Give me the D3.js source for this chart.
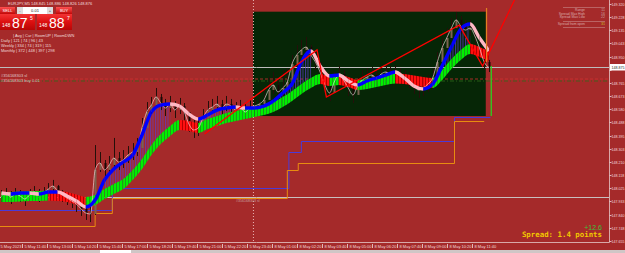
<!DOCTYPE html>
<html><head><meta charset="utf-8">
<script src="https://cdn.jsdelivr.net/npm/d3@7"></script>
<style>html,body{margin:0;padding:0;background:#a52a2a;overflow:hidden}svg{display:block}text{font-family:"Liberation Sans",Arial,sans-serif}</style>
</head><body><svg id="c" width="625" height="253"></svg>
<script>
// ---------------- DATA ----------------
const titleText = "EURJPY,M5  148.845 148.886 148.826 148.876";
const bidPrice = 148.875;
const askPrice = 148.887;
const lotText = "0.01";
const priceTicks = [149.320,149.228,149.135,149.043,148.950,148.858,148.765,148.673,148.580,148.488,148.395,148.303,148.210,148.118,148.025,147.933,147.840,147.748,147.655];
const timeTickLabels = ["5 May 2023","5 May 11:40","5 May 13:00","5 May 14:20","5 May 15:40","5 May 17:00","5 May 18:20","5 May 19:40","5 May 21:00","5 May 22:20","5 May 23:40","8 May 01:00","8 May 02:20","8 May 03:40","8 May 05:00","8 May 06:20","8 May 07:40","8 May 09:00","8 May 10:20","8 May 11:40"];
const timeTickBars = [-15,0,16,32,48,64,80,96,112,128,144,160,176,192,208,224,240,256,272,288];
const daySeparatorBar = 148;

// candles: one every 3 M5 bars, first at bar -13 (bars counted from 5 May 11:40)
const candleFirstBar = -13, barsPerCandle = 3;
const closes = [147.971,147.992,147.964,147.985,147.971,147.950,147.978,147.999,147.978,147.992,
148.020,148.041,148.006,147.978,147.957,147.936,147.915,147.880,147.852,147.845,
148.154,148.203,148.154,148.189,148.238,148.210,148.224,148.259,148.280,148.308,
148.449,148.561,148.610,148.667,148.624,148.589,148.617,148.575,148.603,148.561,
148.477,148.435,148.449,148.519,148.575,148.596,148.617,148.589,148.617,148.603,
148.575,148.589,148.561,148.589,148.603,148.617,148.646,148.716,148.751,148.702,
148.730,148.772,148.898,148.962,148.997,149.018,148.962,148.912,148.842,148.751,
148.695,148.772,148.828,148.786,148.730,148.681,148.744,148.786,148.807,148.821,
148.800,148.828,148.842,148.828,148.835,148.814,148.800,148.786,148.744,148.716,
148.730,148.758,148.800,148.912,149.011,149.081,149.151,149.208,149.165,149.137,
149.151,149.095,149.011,148.912,148.875];
const highs = [148.013,148.027,148.006,148.027,148.013,147.992,148.020,148.041,148.020,148.034,
148.062,148.084,148.048,148.013,147.992,147.971,147.950,147.922,147.894,147.908,
148.329,148.280,148.224,148.252,148.379,148.280,148.294,148.322,148.343,148.379,
148.519,148.631,148.667,148.730,148.688,148.653,148.674,148.638,148.660,148.624,
148.547,148.505,148.505,148.582,148.638,148.653,148.674,148.646,148.674,148.653,
148.631,148.646,148.617,148.646,148.653,148.667,148.716,148.807,148.842,148.786,
148.856,148.870,148.962,149.032,149.067,149.088,149.032,148.983,148.912,148.814,
148.758,148.842,148.884,148.856,148.793,148.744,148.807,148.856,148.870,148.877,
148.863,148.884,148.898,148.884,148.891,148.870,148.856,148.842,148.807,148.772,
148.786,148.821,148.870,148.983,149.081,149.151,149.222,149.264,149.236,149.208,
149.208,149.165,149.081,148.983,148.927];
const lows = [147.929,147.950,147.915,147.943,147.929,147.901,147.936,147.957,147.929,147.943,
147.971,147.992,147.957,147.929,147.908,147.887,147.859,147.831,147.803,147.788,
147.838,148.140,148.098,148.133,148.175,148.154,148.168,148.203,148.224,148.252,
148.365,148.477,148.547,148.603,148.575,148.533,148.561,148.519,148.547,148.491,
148.421,148.379,148.393,148.463,148.519,148.547,148.568,148.540,148.568,148.554,
148.526,148.540,148.512,148.540,148.554,148.568,148.589,148.660,148.688,148.646,
148.674,148.716,148.828,148.905,148.941,148.962,148.905,148.856,148.786,148.695,
148.638,148.716,148.772,148.730,148.674,148.624,148.688,148.737,148.758,148.772,
148.751,148.779,148.793,148.779,148.786,148.765,148.751,148.730,148.688,148.660,
148.674,148.702,148.744,148.856,148.955,149.025,149.095,149.151,149.109,149.081,
149.095,149.039,148.955,148.856,148.842];

// moving averages: one point every 6 bars, first at bar -13
const maFirstBar = -13, maStep = 6;
const slowMA = [147.964,147.964,147.968,147.971,147.971,147.975,147.971,147.964,147.946,147.929,
147.943,147.985,148.020,148.055,148.119,148.196,148.294,148.371,148.428,148.470,
148.463,148.449,148.477,148.498,148.519,148.533,148.547,148.561,148.575,148.596,
148.631,148.674,148.723,148.765,148.793,148.779,148.786,148.772,148.751,148.758,
148.772,148.786,148.797,148.793,148.783,148.772,148.765,148.821,148.898,148.962,
149.004,148.983,148.955];
const fastMA = [147.992,147.985,147.992,147.992,147.985,147.999,147.999,147.971,147.936,147.894,
147.943,148.084,148.161,148.210,148.259,148.400,148.561,148.610,148.617,148.603,
148.547,148.512,148.540,148.575,148.589,148.596,148.589,148.589,148.603,148.638,
148.695,148.758,148.912,148.990,148.884,148.814,148.821,148.779,148.751,148.779,
148.800,148.821,148.842,148.800,148.744,148.723,148.758,148.884,149.018,149.144,
149.179,149.081,148.990];

// zigzag vertices [bar, price]
const zigzagBars = [117,189,195,280,295,316];
const zigzagPrices = [148.407,148.997,148.667,149.172,148.884,149.362];
// step lines [bar, price]
const blueStepBars = [-15,58,58,171,171,179,179,277,277,300];
const blueStepPrices = [147.873,147.873,148.027,148.027,148.280,148.280,148.357,148.357,148.526,148.526];
const orangeStepBars = [-15,47,47,58,58,170,170,177,177,277,277,296];
const orangeStepPrices = [147.760,147.760,147.852,147.852,147.957,147.957,148.154,148.154,148.203,148.203,148.498,148.498];
// rectangle object
const rectBars = [148,297];
const rectPrices = [149.266,148.533];
// order lines
const slPrice = 147.964;
const orderPrices = [148.793,148.779];
const orderLabels = ["#356168303 sl","#356168303 buy 0.01"];
// current bar range markers
const rangeMarkBars = [297.5,300.5];
const rangeMarkFrom = [149.292,148.884];
const rangeMarkTo = [148.912,148.533];
// panel table
const statHeader = "| Avg | Cur | RoomUP | RoomDWN";
const statRows = ["Daily","Weekly","Monthly"];
const statValues = [[121,74,96,43],[334,74,319,115],[372,448,397,298]];
const infoLabels = ["Range","Spread Max High","Spread Max Low","Spread from open"];
const infoValues = ["11","16","22","31"];
const spreadText = "Spread: 1.4 points";
const pipText = "+12.6";

// ---------------- DRAW ----------------
const svg = d3.select("#c");
const plotR = 609, plotB = 242;
const y = d3.scaleLinear().domain([147.655,149.320]).range([241,4]);
const x = d3.scaleLinear().domain([0,16]).range([21.7,46.7]);
const candleBar = i => candleFirstBar + i*barsPerCandle;
const maBar = k => maFirstBar + k*maStep;
const defs = svg.append("defs");

svg.append("rect").attr("width",625).attr("height",253).attr("fill","#a52a2a");
defs.append("clipPath").attr("id","plot").append("rect").attr("x",0).attr("y",0).attr("width",plotR).attr("height",plotB);
const g = svg.append("g").attr("clip-path","url(#plot)");

// patterns
function stripe(id,a,b,w){
  const p = defs.append("pattern").attr("id",id).attr("width",w).attr("height",20).attr("patternUnits","userSpaceOnUse");
  p.append("rect").attr("width",w).attr("height",20).attr("fill",b);
  p.append("rect").attr("width",w-1).attr("height",20).attr("fill",a);
}
stripe("gUp","#00f000","#1aa01a",3);
stripe("gDn","#ff1010","#b40000",3);
const pp = defs.append("pattern").attr("id","pur").attr("width",2.5).attr("height",20).attr("patternUnits","userSpaceOnUse");
pp.append("rect").attr("width",1).attr("height",20).attr("fill","#5a3cc8").attr("opacity",0.75);

// green rectangle
g.append("rect").attr("x",x(rectBars[0])).attr("y",y(rectPrices[0]))
 .attr("width",x(rectBars[1])-x(rectBars[0])).attr("height",y(rectPrices[1])-y(rectPrices[0])).attr("fill","#062606");

// day separator
g.append("line").attr("x1",x(daySeparatorBar)+0.5).attr("x2",x(daySeparatorBar)+0.5).attr("y1",0).attr("y2",plotB)
 .attr("stroke","#e8b4b4").attr("stroke-dasharray","1,2").attr("stroke-width",1);

// horizontal lines
g.append("line").attr("x1",0).attr("x2",plotR).attr("y1",Math.round(y(bidPrice))+0.5).attr("y2",Math.round(y(bidPrice))+0.5).attr("stroke","#bdbdbd");
g.append("line").attr("x1",0).attr("x2",plotR).attr("y1",Math.round(y(slPrice))+0.5).attr("y2",Math.round(y(slPrice))+0.5).attr("stroke","#c8c0c0");
g.append("line").attr("x1",0).attr("x2",plotR).attr("y1",y(orderPrices[0])).attr("y2",y(orderPrices[0])).attr("stroke","#d23030").attr("stroke-dasharray","3,2").attr("stroke-width",0.8);
g.append("line").attr("x1",0).attr("x2",plotR).attr("y1",y(orderPrices[1])).attr("y2",y(orderPrices[1])).attr("stroke","#2f6a1a").attr("stroke-dasharray","4,2,1,2").attr("stroke-width",0.8);

// step lines
const stepLine = d3.line().x(d=>x(d[0])).y(d=>Math.round(y(d[1]))+0.5);
g.append("path").attr("d",stepLine(blueStepBars.map((b,i)=>[b,blueStepPrices[i]]))).attr("fill","none").attr("stroke","#4a3ad8").attr("stroke-width",1);
g.append("path").attr("d",stepLine(orangeStepBars.map((b,i)=>[b,orangeStepPrices[i]]))).attr("fill","none").attr("stroke","#e88c10").attr("stroke-width",1);

// MA ribbon, segment clips
const maIdx = d3.range(slowMA.length);
const bandPath = d3.area().x(k=>x(maBar(k))).y0(k=>y(slowMA[k])-5).y1(k=>y(slowMA[k])+5).curve(d3.curveMonotoneX)(maIdx);
const purPath = d3.area().x(k=>x(maBar(k))).y0(k=>y(slowMA[k])-5).y1(k=>y(fastMA[k])).curve(d3.curveMonotoneX)(maIdx);
const fastPath = d3.line().x(k=>x(maBar(k))).y(k=>y(fastMA[k])).curve(d3.curveMonotoneX)(maIdx);
const segs = maIdx.slice(0,-1).map(k=>{
  const x0 = k===0?0:x(maBar(k)), x1 = x(maBar(k+1));
  defs.append("clipPath").attr("id","seg"+k).append("rect").attr("x",x0-0.02).attr("y",-20).attr("width",x1-x0+0.04).attr("height",300);
  return {k, slowUp: slowMA[k+1]>=slowMA[k], fastUp: fastMA[k+1]>=fastMA[k]};
});
const purG = g.append("g");
segs.filter(s=>s.fastUp && fastMA[s.k]>slowMA[s.k]).forEach(s=>{
  purG.append("path").attr("d",purPath).attr("fill","url(#pur)").attr("clip-path","url(#seg"+s.k+")");
});

// candles
const cg = g.append("g");
closes.forEach((c,i)=>{
  const o = i ? closes[i-1] : c, cx = Math.round(x(candleBar(i)))+0.5;
  const hi = Math.max(highs[i],o,c), lo = Math.min(lows[i],o,c);
  cg.append("line").attr("x1",cx).attr("x2",cx).attr("y1",y(hi)).attr("y2",y(lo)).attr("stroke","#24100a").attr("stroke-width",1);
  const top = y(Math.max(o,c)), bot = y(Math.min(o,c));
  cg.append("rect").attr("x",cx-1).attr("y",top).attr("width",2).attr("height",Math.max(0.8,bot-top))
    .attr("fill", c>=o ? "#7a6450" : "#1a0806");
});

// band
const bandG = g.append("g");
segs.forEach(s=>{
  bandG.append("path").attr("d",bandPath).attr("fill",s.slowUp?"url(#gUp)":"url(#gDn)").attr("clip-path","url(#seg"+s.k+")");
});

// thin white price line
g.append("path").attr("d",d3.line().x((c,i)=>x(candleBar(i))).y(c=>y(c)).curve(d3.curveMonotoneX)(closes))
 .attr("fill","none").attr("stroke","#f6e6e6").attr("stroke-width",0.8).attr("opacity",0.8);

// fast MA
const fastG = g.append("g");
segs.forEach(s=>{
  fastG.append("path").attr("d",fastPath).attr("fill","none").attr("stroke",s.fastUp?"#0000ff":"#ffb8c4")
   .attr("stroke-width",3.4).attr("clip-path","url(#seg"+s.k+")");
});

// zigzag
g.append("path").attr("d",d3.line().x((b)=>x(b)).y((b,i)=>y(zigzagPrices[i]))(zigzagBars))
 .attr("fill","none").attr("stroke","#ff0000").attr("stroke-width",1.3);

// range marks
rangeMarkBars.forEach((b,i)=>{
  g.append("line").attr("x1",x(b)).attr("x2",x(b)).attr("y1",y(rangeMarkFrom[i])).attr("y2",y(rangeMarkTo[i]))
   .attr("stroke", i===0?"#e08020":"#20e020").attr("stroke-width",1.2);
});

// order labels
orderLabels.forEach((t,i)=>{
  svg.append("text").attr("x",1).attr("y",y(orderPrices[i])-(i===0?2.5:-0.5)).attr("font-size",4).attr("fill","#e0c8c8").text(t);
});
svg.append("text").attr("x",236).attr("y",y(slPrice)+5).attr("font-size",3.6).attr("fill","#c8a0a0").text("#356168303 sl");

// ---- axes ----
svg.append("line").attr("x1",plotR+0.5).attr("x2",plotR+0.5).attr("y1",0).attr("y2",plotB+0.5).attr("stroke","#d8a8a8");
svg.append("line").attr("x1",0).attr("x2",plotR+0.5).attr("y1",plotB+0.5).attr("y2",plotB+0.5).attr("stroke","#d8a8a8");
const by = Math.round(y(bidPrice));
priceTicks.forEach(p=>{
  const yy = Math.round(y(p))+0.5;
  svg.append("line").attr("x1",plotR).attr("x2",plotR+2.5).attr("y1",yy).attr("y2",yy).attr("stroke","#e0b8b8");
  if (Math.abs(yy-by) < 6) return; // hidden under the bid label
  svg.append("text").attr("x",plotR+2.6).attr("y",yy+1.4).attr("font-size",3.6).attr("fill","#f2dada").text(p.toFixed(3));
});
svg.append("rect").attr("x",plotR+1).attr("y",by-3).attr("width",15).attr("height",6.5).attr("fill","#ffffff");
svg.append("text").attr("x",plotR+2.6).attr("y",by+1.5).attr("font-size",3.6).attr("fill","#222").text(bidPrice.toFixed(3));

timeTickLabels.forEach((t,i)=>{
  const xx = Math.round(x(timeTickBars[i]))+0.5;
  svg.append("line").attr("x1",xx).attr("x2",xx).attr("y1",244).attr("y2",248).attr("stroke","#e0b8b8");
  svg.append("text").attr("x",Math.max(0.5,xx+2)).attr("y",247.8).attr("font-size",4).attr("fill","#f2dada").text(t);
});
svg.append("rect").attr("x",0).attr("y",250).attr("width",625).attr("height",3).attr("fill","#cfc6c6");
svg.append("rect").attr("x",100).attr("y",250).attr("width",31).attr("height",3).attr("fill","#ffffff");

// ---- top-left panel ----
svg.append("text").attr("x",8).attr("y",4.5).attr("font-size",4).attr("fill","#f0dede").text(titleText);
const grad = defs.append("linearGradient").attr("id","btn").attr("x1",0).attr("x2",0).attr("y1",0).attr("y2",1);
grad.append("stop").attr("offset",0).attr("stop-color","#ff5050");
grad.append("stop").attr("offset",1).attr("stop-color","#c00808");
const grad2 = defs.append("linearGradient").attr("id","pbox").attr("x1",0).attr("x2",0).attr("y1",0).attr("y2",1);
grad2.append("stop").attr("offset",0).attr("stop-color","#f23434");
grad2.append("stop").attr("offset",0.5).attr("stop-color","#dc1010");
grad2.append("stop").attr("offset",1).attr("stop-color","#b80606");
svg.append("rect").attr("x",0).attr("y",7).attr("width",15).attr("height",7).attr("fill","url(#btn)");
svg.append("text").attr("x",7.5).attr("y",12).attr("text-anchor","middle").attr("font-size",4).attr("fill","#fff").text("SELL");
svg.append("rect").attr("x",17).attr("y",7).attr("width",6).attr("height",7).attr("fill","#dcdcdc");
svg.append("text").attr("x",20).attr("y",12).attr("text-anchor","middle").attr("font-size",4).attr("fill","#222").text("-");
svg.append("rect").attr("x",23).attr("y",7).attr("width",24).attr("height",7).attr("fill","#ffffff");
svg.append("text").attr("x",35).attr("y",12).attr("text-anchor","middle").attr("font-size",4).attr("fill","#222").text(lotText);
svg.append("rect").attr("x",47).attr("y",7).attr("width",6).attr("height",7).attr("fill","#dcdcdc");
svg.append("text").attr("x",50).attr("y",12).attr("text-anchor","middle").attr("font-size",4).attr("fill","#222").text("+");
svg.append("rect").attr("x",56).attr("y",7).attr("width",16).attr("height",7).attr("fill","url(#btn)");
svg.append("text").attr("x",64).attr("y",12).attr("text-anchor","middle").attr("font-size",4).attr("fill","#fff").text("BUY");
[[0,bidPrice],[37,askPrice]].forEach(([bx,p])=>{
  const s = p.toFixed(3);
  svg.append("rect").attr("x",bx).attr("y",14).attr("width",35).attr("height",16).attr("fill","url(#pbox)");
  svg.append("text").attr("x",bx+2).attr("y",27).attr("font-size",5).attr("fill","#fff").text(s.slice(0,3));
  svg.append("text").attr("x",bx+12).attr("y",28).attr("font-size",14).attr("fill","#fff").text(s.slice(4,6));
  svg.append("text").attr("x",bx+30).attr("y",20).attr("font-size",5).attr("fill","#fff").text(s.slice(6));
});
svg.append("text").attr("x",13).attr("y",36.5).attr("font-size",4).attr("fill","#f0dede").attr("xml:space","preserve").text(statHeader);
statRows.forEach((r,i)=>{
  svg.append("text").attr("x",1).attr("y",41.5+i*5).attr("font-size",4).attr("fill","#f0dede")
   .text(r+" | "+statValues[i].join(" | "));
});

// ---- top-right info panel ----
[7.5,21.5,27.5].forEach(yy=>svg.append("line").attr("x1",563).attr("x2",605).attr("y1",yy).attr("y2",yy).attr("stroke","#c88a8a").attr("stroke-width",0.6));
[11,14.5,18,25].forEach((yy,i)=>{
  svg.append("text").attr("x",585).attr("y",yy).attr("text-anchor","end").attr("font-size",3.4).attr("fill","#d8a8a8").text(infoLabels[i]);
  svg.append("text").attr("x",605).attr("y",yy).attr("text-anchor","end").attr("font-size",3.6)
   .attr("fill", i===3?"#c8c020":"#c8a0a0").text(infoValues[i]);
});

// ---- spread text ----
svg.append("text").attr("x",602).attr("y",230).attr("text-anchor","end").attr("font-size",7).attr("fill","#3cc03c").text(pipText);
svg.append("text").attr("x",602).attr("y",237).attr("text-anchor","end").attr("font-size",7.4).attr("font-weight","bold")
 .style("font-family","'DejaVu Sans Mono',monospace").attr("fill","#f2c800").text(spreadText);
</script></body></html>
